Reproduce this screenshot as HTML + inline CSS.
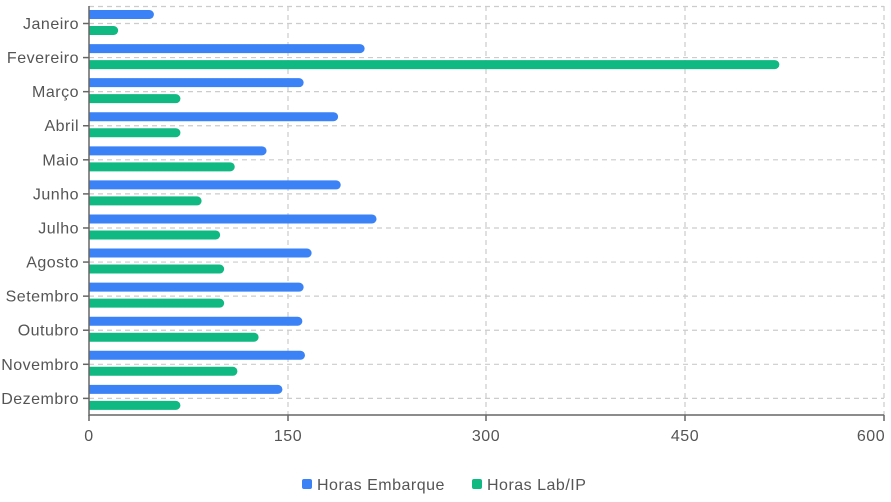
<!DOCTYPE html><html><head><meta charset="utf-8"><style>body{margin:0;background:#fff}svg{display:block}text{font-family:"Liberation Sans",sans-serif;fill:#555;font-size:16px;letter-spacing:0.5px}</style></head><body>
<svg width="891" height="502" xmlns="http://www.w3.org/2000/svg">
<g stroke="#ccc" stroke-dasharray="5,4" stroke-width="1.2" fill="none">
<line x1="89" y1="6.5" x2="884" y2="6.5"/>
<line x1="288" y1="6" x2="288" y2="415"/><line x1="486" y1="6" x2="486" y2="415"/><line x1="685" y1="6" x2="685" y2="415"/><line x1="884" y1="6" x2="884" y2="415"/>
<g id="h"></g>
</g>
<g id="bars"></g>
<g stroke="#666" stroke-width="1.5"><line x1="89" y1="6" x2="89" y2="416"/><line x1="89" y1="415" x2="884" y2="415"/></g>
<g id="lab"></g>
<g text-anchor="middle"><text x="89" y="441">0</text><text x="288" y="441">150</text><text x="486" y="441">300</text><text x="685" y="441">450</text><text x="871" y="441">600</text></g>
<g stroke="#666" stroke-width="1.5"><line x1="288" y1="415" x2="288" y2="421"/><line x1="486" y1="415" x2="486" y2="421"/><line x1="685" y1="415" x2="685" y2="421"/><line x1="884" y1="415" x2="884" y2="421"/><line x1="89" y1="415" x2="89" y2="421"/></g>
<rect x="302" y="479" width="10" height="10" rx="2" fill="#3b82f6"/><text x="317" y="490">Horas Embarque</text>
<rect x="472" y="479" width="10" height="10" rx="2" fill="#10b981"/><text x="487" y="490">Horas Lab/IP</text>
<script>
var m=["Janeiro","Fevereiro","Março","Abril","Maio","Junho","Julho","Agosto","Setembro","Outubro","Novembro","Dezembro"];
var b=[49,208,162,188,134,190,217,168,162,161,163,146],g=[22,521,69,69,110,85,99,102,102,128,112,69];
var ns="http://www.w3.org/2000/svg",H=document.getElementById("h"),B=document.getElementById("bars"),L=document.getElementById("lab");
function el(p,t,a,tx){var e=document.createElementNS(ns,t);for(var k in a)e.setAttribute(k,a[k]);if(tx)e.textContent=tx;p.appendChild(e);}
function bar(y,v,c){var w=v*1.325;el(B,"path",{d:"M89 "+y+"h"+(w-4.5)+"a4.5 4.5 0 0 1 0 9h-"+(w-4.5)+"z",fill:c});}
for(var i=0;i<12;i++){var cy=23.5+i*34.08;
el(H,"line",{x1:89,y1:cy,x2:884,y2:cy});
bar(cy-13.5,b[i],"#3b82f6");bar(cy+2.5,g[i],"#10b981");
el(L,"line",{x1:83,y1:cy,x2:89,y2:cy,stroke:"#666","stroke-width":1.5});
el(L,"text",{x:79,y:cy+5.5,"text-anchor":"end"},m[i]);}
</script>
</svg></body></html>
